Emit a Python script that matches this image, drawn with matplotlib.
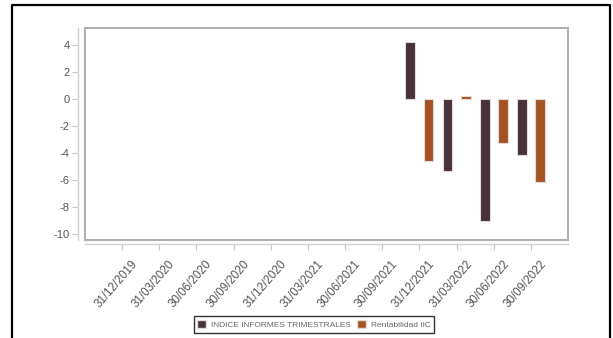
import numpy as np
import matplotlib
matplotlib.use("Agg")
import matplotlib.pyplot as plt
from matplotlib.patches import Rectangle
from matplotlib.lines import Line2D
from matplotlib.transforms import ScaledTranslation

plt.rcParams['font.family'] = ['Liberation Sans', 'DejaVu Sans']

# Quarterly dates and series values (NaN = no data for that quarter)
categories = ["31/12/2019", "31/03/2020", "30/06/2020", "30/09/2020",
              "31/12/2020", "31/03/2021", "30/06/2021", "30/09/2021",
              "31/12/2021", "31/03/2022", "30/06/2022", "30/09/2022"]
indice = [np.nan, np.nan, np.nan, np.nan, np.nan, np.nan, np.nan, np.nan,
          4.24, -5.36, -9.07, -4.13]
rentabilidad = [np.nan, np.nan, np.nan, np.nan, np.nan, np.nan, np.nan, np.nan,
                -4.62, 0.2, -3.26, -6.13]
series_names = ["INDICE INFORMES TRIMESTRALES", "Rentabilidad IIC"]
yticks = [4, 2, 0, -2, -4, -6, -8, -10]

W, H = 613, 338
fig = plt.figure(figsize=(W / 100, H / 100), dpi=100)

# outer black frame (top, left, right)
fig.add_artist(Line2D([12 / W, 12 / W, 610 / W, 610 / W],
                      [-0.05, 1 - 5 / H, 1 - 5 / H, -0.05],
                      transform=fig.transFigure, color="black", lw=1.6))

ax = fig.add_axes([85 / W, 1 - 240 / H, (568 - 85) / W, (240 - 28) / H])

dark = "#46333a"
orange = "#a65323"
edge = "#e2d9db"
x = np.arange(len(categories))
w = 0.265
ax.bar(x - 0.245, indice, width=w, color=dark, edgecolor=edge, linewidth=0.8)
ax.bar(x + 0.245, rentabilidad, width=w, color=orange, edgecolor=edge, linewidth=0.8)

ax.set_xlim(-1, len(categories))
ax.set_ylim(-10.45, 5.25)
ax.set_yticks(yticks)
ax.set_yticklabels([str(v) for v in yticks])
ax.set_xticks(x)
ax.set_xticklabels(categories)

grey = "#b0b0b0"
for s in ["top", "right"]:
    ax.spines[s].set_visible(False)
ax.spines["left"].set_position(("outward", 5))
ax.spines["bottom"].set_position(("outward", 3))
for s in ["left", "bottom"]:
    ax.spines[s].set_color("#d0d0d0")
    ax.spines[s].set_linewidth(1.0)
ax.add_patch(Rectangle((0, 0), 1, 1, transform=ax.transAxes, fill=False,
                       edgecolor=grey, linewidth=1.5, clip_on=False, zorder=5))
ax.tick_params(axis="both", colors="#c8c8c8", labelcolor="#555555",
               labelsize=8, length=4, width=0.8)
ax.tick_params(axis="y", pad=2)
ax.tick_params(axis="x", pad=6, labelsize=8.4)
shift = ScaledTranslation(9 / 100, 0, fig.dpi_scale_trans)
for lab in ax.get_xticklabels():
    lab.set_rotation(49)
    lab.set_ha("right")
    lab.set_va("top")
    lab.set_rotation_mode("anchor")
    lab.set_transform(lab.get_transform() + shift)

handles = [Rectangle((0, 0), 1, 1, facecolor=dark, edgecolor=edge),
           Rectangle((0, 0), 1, 1, facecolor=orange, edgecolor=edge)]
leg = fig.legend(handles, series_names, loc="center",
                 bbox_to_anchor=(314 / W, 1 - 324.5 / H), ncol=2,
                 fontsize=6, frameon=True, fancybox=False,
                 handlelength=1.0, handleheight=1.0, handletextpad=0.6,
                 columnspacing=0.8, borderpad=0.45, labelcolor="#666666")
leg.get_frame().set_edgecolor("black")
leg.get_frame().set_linewidth(1.0)

fig.savefig("out.png", dpi=100)
